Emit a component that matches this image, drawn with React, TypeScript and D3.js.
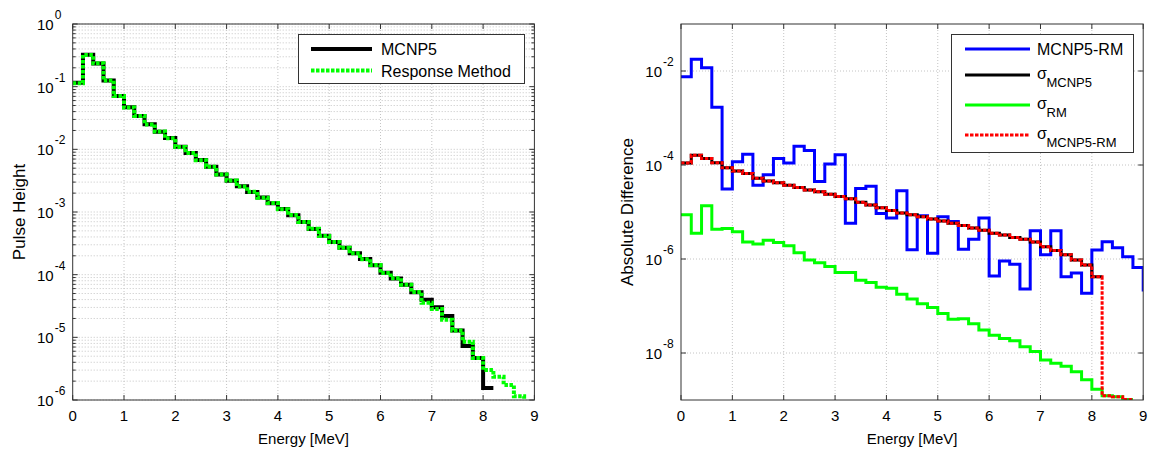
import React from 'react';
import * as d3 from 'd3';

// ---------- data (0.2 MeV bins starting at 0) ----------
const binWidth = 0.2;

// Left panel: pulse height
const pulseMCNP5 = [
  0.115, 0.324, 0.234, 0.126, 0.0708, 0.0468, 0.0339, 0.0251, 0.0191, 0.0151,
  0.0110, 8.71e-3, 6.76e-3, 5.25e-3, 3.98e-3, 3.16e-3, 2.57e-3, 2.09e-3, 1.70e-3, 1.38e-3,
  1.12e-3, 8.91e-4, 6.92e-4, 5.37e-4, 4.17e-4, 3.31e-4, 2.69e-4, 2.19e-4, 1.78e-4, 1.41e-4,
  1.07e-4, 8.71e-5, 6.92e-5, 5.25e-5, 3.98e-5, 3.02e-5, 2.19e-5, 1.29e-5, 7.24e-6, 4.68e-6,
  1.55e-6,
];
const pulseRM = [
  0.113, 0.320, 0.236, 0.125, 0.0711, 0.0465, 0.0341, 0.0250, 0.0192, 0.0150,
  0.0109, 8.76e-3, 6.72e-3, 5.27e-3, 3.96e-3, 3.18e-3, 2.55e-3, 2.10e-3, 1.69e-3, 1.39e-3,
  1.11e-3, 8.95e-4, 6.90e-4, 5.40e-4, 4.15e-4, 3.33e-4, 2.68e-4, 2.20e-4, 1.77e-4, 1.42e-4,
  1.06e-4, 8.75e-5, 6.90e-5, 5.28e-5, 3.55e-5, 2.82e-5, 1.91e-5, 1.29e-5, 8.51e-6, 4.68e-6,
  3.02e-6, 2.34e-6, 1.74e-6, 1.15e-6, 6.61e-7,
];

// Right panel: absolute difference and uncertainties
const diffMCNP5RM = [
  7.59e-3, 1.78e-2, 1.17e-2, 1.70e-3, 3.09e-5, 1.17e-4, 1.70e-4, 3.72e-5, 6.17e-5, 1.38e-4,
  1.10e-4, 2.51e-4, 2.04e-4, 4.47e-5, 1.05e-4, 1.66e-4, 5.75e-6, 3.16e-5, 3.55e-5, 9.33e-6,
  7.41e-6, 2.82e-5, 1.58e-6, 8.32e-6, 1.32e-6, 7.94e-6, 6.31e-6, 1.62e-6, 2.63e-6, 7.41e-6,
  4.37e-7, 9.12e-7, 7.76e-7, 2.29e-7, 3.98e-6, 1.23e-6, 3.98e-6, 4.17e-7, 5.01e-7, 1.86e-7,
  1.55e-6, 2.34e-6, 1.74e-6, 1.12e-6, 6.61e-7, 2.19e-7,
];
const sigmaMCNP5 = [
  1.10e-4, 1.62e-4, 1.38e-4, 1.12e-4, 8.71e-5, 7.41e-5, 6.61e-5, 5.25e-5, 4.57e-5, 4.17e-5,
  3.72e-5, 3.31e-5, 2.95e-5, 2.69e-5, 2.40e-5, 2.14e-5, 1.91e-5, 1.62e-5, 1.41e-5, 1.23e-5,
  1.07e-5, 9.55e-6, 8.71e-6, 7.94e-6, 7.08e-6, 6.46e-6, 5.75e-6, 5.13e-6, 4.57e-6, 4.07e-6,
  3.55e-6, 3.24e-6, 2.88e-6, 2.63e-6, 2.29e-6, 1.82e-6, 1.51e-6, 1.23e-6, 9.55e-7, 7.41e-7,
  4.17e-7,
];
const sigmaRM = [
  8.71e-6, 3.55e-6, 1.35e-5, 4.27e-6, 4.47e-6, 3.80e-6, 2.29e-6, 2.09e-6, 2.51e-6, 2.24e-6,
  1.91e-6, 1.35e-6, 9.55e-7, 8.32e-7, 6.92e-7, 5.13e-7, 5.13e-7, 3.55e-7, 3.16e-7, 2.51e-7,
  2.40e-7, 1.78e-7, 1.41e-7, 1.12e-7, 9.33e-8, 6.92e-8, 5.25e-8, 5.37e-8, 4.17e-8, 3.09e-8,
  2.40e-8, 2.04e-8, 1.82e-8, 1.35e-8, 1.07e-8, 7.08e-9, 6.03e-9, 5.25e-9, 3.98e-9, 2.69e-9,
  1.70e-9, 1.23e-9, 1.17e-9, 1.02e-9,
];
const sigmaMCNP5RM = [
  1.10e-4, 1.62e-4, 1.38e-4, 1.12e-4, 8.71e-5, 7.41e-5, 6.61e-5, 5.25e-5, 4.57e-5, 4.17e-5,
  3.72e-5, 3.31e-5, 2.95e-5, 2.69e-5, 2.40e-5, 2.14e-5, 1.91e-5, 1.62e-5, 1.41e-5, 1.23e-5,
  1.07e-5, 9.55e-6, 8.71e-6, 7.94e-6, 7.08e-6, 6.46e-6, 5.75e-6, 5.13e-6, 4.57e-6, 4.07e-6,
  3.55e-6, 3.24e-6, 2.88e-6, 2.63e-6, 2.29e-6, 1.82e-6, 1.51e-6, 1.23e-6, 9.55e-7, 7.41e-7,
  4.17e-7, 1.23e-9, 1.17e-9, 1.02e-9,
];

const xTicks = [0, 1, 2, 3, 4, 5, 6, 7, 8, 9];
const leftYExps = [0, -1, -2, -3, -4, -5, -6];
const rightYExps = [-2, -4, -6, -8];

// ---------- layout ----------
const FONT = '"Liberation Sans", Arial, Helvetica, sans-serif';
const AX = '#333333';
const GRID = '#c4c4c4';
const TOP = 24;
const BOTTOM = 400;

function stairs(values: number[]): [number, number][] {
  const pts: [number, number][] = values.map((v, i) => [i * binWidth, v]);
  pts.push([values.length * binWidth, values[values.length - 1]]);
  return pts;
}

function Pow({ x, y, exp }: { x: number; y: number; exp: number }) {
  return (
    <g fontFamily={FONT} fill="#000">
      <text x={x - 19} y={y + 6} fontSize={15} textAnchor="end">10</text>
      <text x={x - 18} y={y - 5} fontSize={12} textAnchor="start">{exp}</text>
    </g>
  );
}

function Panel(props: {
  id: string;
  x0: number;
  x1: number;
  yDomain: [number, number];
  majorExps: number[];
  minor: boolean;
  ylabel: string;
  children: (x: d3.ScaleLinear<number, number>, y: d3.ScaleLogarithmic<number, number>) => React.ReactNode;
  legend: React.ReactNode;
}) {
  const { id, x0, x1, yDomain, majorExps, minor, ylabel } = props;
  const x = d3.scaleLinear().domain([0, 9]).range([x0, x1]);
  const y = d3.scaleLog().domain(yDomain).range([BOTTOM, TOP]);
  const lo = Math.round(Math.log10(yDomain[0]));
  const hi = Math.round(Math.log10(yDomain[1]));
  const minorVals: number[] = [];
  if (minor) {
    for (let e = lo; e < hi; e++) for (let m = 2; m <= 9; m++) minorVals.push(m * Math.pow(10, e));
  }
  const gridMajor = majorExps.map((e) => Math.pow(10, e));
  return (
    <g>
      <defs>
        <clipPath id={id}>
          <rect x={x0} y={TOP} width={x1 - x0} height={BOTTOM - TOP} />
        </clipPath>
      </defs>
      <rect x={x0} y={TOP} width={x1 - x0} height={BOTTOM - TOP} fill="#fff" />
      {/* grid */}
      <g stroke={GRID} strokeWidth={1} strokeDasharray="1,2">
        {xTicks.slice(1, -1).map((t) => (
          <line key={'gx' + t} x1={x(t)} x2={x(t)} y1={TOP} y2={BOTTOM} />
        ))}
        {minorVals.map((v, i) => (
          <line key={'gm' + i} x1={x0} x2={x1} y1={y(v)} y2={y(v)} />
        ))}
        {gridMajor.map((v, i) => (
          <line key={'gM' + i} x1={x0} x2={x1} y1={y(v)} y2={y(v)} />
        ))}
      </g>
      {/* data */}
      <g clipPath={`url(#${id})`}>{props.children(x, y)}</g>
      {/* frame & ticks */}
      <g stroke={AX} strokeWidth={1} fill="none">
        <rect x={x0} y={TOP} width={x1 - x0} height={BOTTOM - TOP} />
        {xTicks.map((t) => (
          <g key={'tx' + t}>
            <line x1={x(t)} x2={x(t)} y1={BOTTOM} y2={BOTTOM - 5} />
            <line x1={x(t)} x2={x(t)} y1={TOP} y2={TOP + 5} />
          </g>
        ))}
        {gridMajor.map((v, i) => (
          <g key={'ty' + i}>
            <line x1={x0} x2={x0 + 5} y1={y(v)} y2={y(v)} />
            <line x1={x1} x2={x1 - 5} y1={y(v)} y2={y(v)} />
          </g>
        ))}
        {minorVals.map((v, i) => (
          <g key={'tm' + i}>
            <line x1={x0} x2={x0 + 3} y1={y(v)} y2={y(v)} />
            <line x1={x1} x2={x1 - 3} y1={y(v)} y2={y(v)} />
          </g>
        ))}
      </g>
      {/* tick labels */}
      <g fontFamily={FONT} fontSize={15} fill="#000">
        {xTicks.map((t) => (
          <text key={'lx' + t} x={x(t)} y={BOTTOM + 21} textAnchor="middle">{t}</text>
        ))}
        <text x={(x0 + x1) / 2} y={444} textAnchor="middle">Energy [MeV]</text>
        <text
          transform={`translate(${x0 - 48},${(TOP + BOTTOM) / 2}) rotate(-90)`}
          textAnchor="middle"
          fontSize={17}
        >
          {ylabel}
        </text>
      </g>
      {majorExps.map((e) => (
        <Pow key={'p' + e} x={x0} y={y(Math.pow(10, e))} exp={e} />
      ))}
      {props.legend}
    </g>
  );
}

export default function App() {
  const stepLine = (x: d3.ScaleLinear<number, number>, y: d3.ScaleLogarithmic<number, number>) =>
    d3
      .line<[number, number]>()
      .x((d) => x(d[0]))
      .y((d) => y(d[1]))
      .curve(d3.curveStepAfter);

  return (
    <div style={{ position: 'absolute', left: 0, top: 0 }}>
      <svg width={1155} height={454} style={{ display: 'block', background: '#fff' }}>
        <Panel
          id="clipL"
          x0={72.7}
          x1={534.4}
          yDomain={[1e-6, 1]}
          majorExps={leftYExps}
          minor={true}
          ylabel="Pulse Height"
          legend={
            <g fontFamily={FONT} fontSize={16}>
              <rect x={298.5} y={34.5} width={226} height={49} fill="#fff" stroke={AX} />
              <line x1={311} x2={372} y1={49} y2={49} stroke="#000" strokeWidth={4} />
              <line x1={311} x2={372} y1={70.5} y2={70.5} stroke="#00ff00" strokeWidth={4} strokeDasharray="3.5,1.5" />
              <text x={381} y={55}>MCNP5</text>
              <text x={381} y={76.5}>Response Method</text>
            </g>
          }
        >
          {(x, y) => (
            <g fill="none" strokeLinejoin="miter" strokeLinecap="butt">
              <path d={stepLine(x, y)(stairs(pulseMCNP5)) || ''} stroke="#000" strokeWidth={4} />
              <path d={stepLine(x, y)(stairs(pulseRM)) || ''} stroke="#00ff00" strokeWidth={4} strokeDasharray="3.5,1.5" />
            </g>
          )}
        </Panel>
        <Panel
          id="clipR"
          x0={681}
          x1={1143.2}
          yDomain={[1e-9, 1e-1]}
          majorExps={rightYExps}
          minor={false}
          ylabel="Absolute Difference"
          legend={
            <g fontFamily={FONT} fontSize={16}>
              <rect x={951.5} y={34.5} width={182} height={118} fill="#fff" stroke={AX} />
              <line x1={965} x2={1030} y1={49} y2={49} stroke="#0000ff" strokeWidth={3} />
              <line x1={965} x2={1030} y1={75} y2={75} stroke="#000" strokeWidth={3} />
              <line x1={965} x2={1030} y1={105} y2={105} stroke="#00ff00" strokeWidth={3} />
              <line x1={965} x2={1030} y1={135} y2={135} stroke="#ff0000" strokeWidth={3} strokeDasharray="3.5,1.5" />
              <text x={1037} y={55}>MCNP5-RM</text>
              <text x={1037} y={79}>σ</text>
              <text x={1046.5} y={87} fontSize={13}>MCNP5</text>
              <text x={1037} y={108.5}>σ</text>
              <text x={1046.5} y={116.5} fontSize={13}>RM</text>
              <text x={1037} y={138.5}>σ</text>
              <text x={1046.5} y={146.5} fontSize={13}>MCNP5-RM</text>
            </g>
          }
        >
          {(x, y) => (
            <g fill="none" strokeLinejoin="miter" strokeLinecap="butt">
              <path d={stepLine(x, y)(stairs(diffMCNP5RM)) || ''} stroke="#0000ff" strokeWidth={3} />
              <path d={stepLine(x, y)(stairs(sigmaMCNP5)) || ''} stroke="#000" strokeWidth={3} />
              <path d={stepLine(x, y)(stairs(sigmaRM)) || ''} stroke="#00ff00" strokeWidth={3} />
              <path d={stepLine(x, y)(stairs(sigmaMCNP5RM)) || ''} stroke="#ff0000" strokeWidth={3} strokeDasharray="3.5,1.5" />
            </g>
          )}
        </Panel>
      </svg>
    </div>
  );
}
